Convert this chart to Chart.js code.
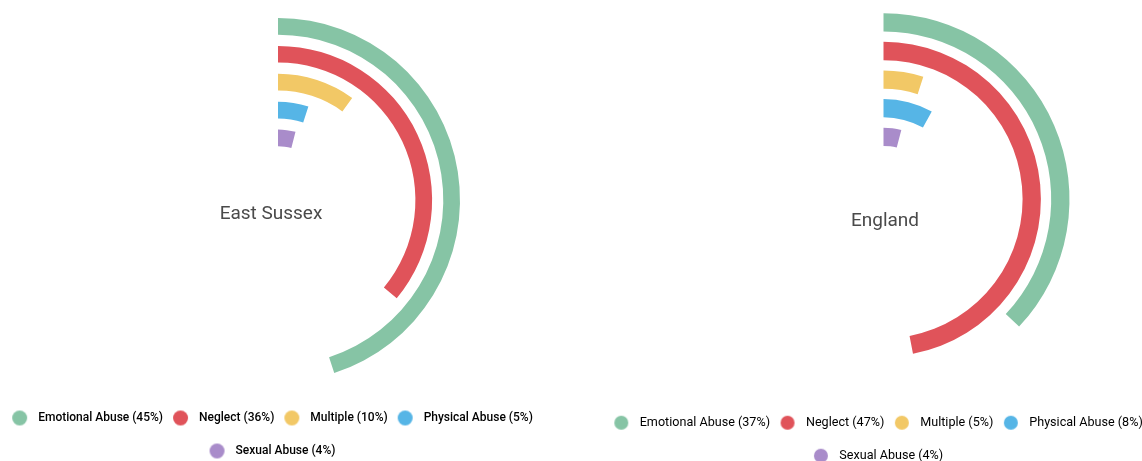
<!DOCTYPE html>
<html>
<head>
<meta charset="utf-8">
<title>Child protection plans by category of abuse</title>
<script src="https://cdn.jsdelivr.net/npm/chart.js@4.4.1/dist/chart.umd.min.js"></script>
<style>
  html, body { margin: 0; padding: 0; background: #ffffff; width: 1142px; height: 461px; overflow: hidden; position: relative; }
  canvas { position: absolute; top: 0; }
</style>
</head>
<body>
<canvas id="eastSussex" width="620" height="467" style="left:-32px"></canvas>
<canvas id="england" width="619" height="472" style="left:574px"></canvas>
<script>
// Categories and percentages for each area
const categories = ['Emotional Abuse', 'Neglect', 'Multiple', 'Physical Abuse', 'Sexual Abuse'];
const eastSussexValues = [45, 36, 10, 5, 4];
const englandValues = [37, 47, 5, 8, 4];
const areaTitles = ['East Sussex', 'England'];

const palette = ['#86C4A5', '#E0535A', '#F2C866', '#56B5E6', '#A98CCA'];
const CLEAR = 'rgba(0,0,0,0)';

// Legend marker: a filled circle on a transparent canvas, shifted off centre
function marker(color, d, shift) {
  const w = Math.ceil(2 * (Math.abs(shift) + d / 2)) + 2;
  const h = Math.ceil(d) + 2;
  const c = document.createElement('canvas');
  c.width = w; c.height = h;
  const ctx = c.getContext('2d');
  ctx.fillStyle = color;
  ctx.beginPath();
  ctx.arc(w / 2 + shift, h / 2, d / 2, 0, Math.PI * 2);
  ctx.fill();
  return c;
}

// Area name written inside the rings
const centreTitle = {
  id: 'centreTitle',
  afterDatasetsDraw(chart, args, opts) {
    const arc = chart.getDatasetMeta(0).data[0];
    if (!arc) return;
    const ctx = chart.ctx;
    ctx.save();
    ctx.font = opts.font;
    ctx.fillStyle = opts.color;
    ctx.textAlign = 'center';
    ctx.textBaseline = 'alphabetic';
    ctx.fillText(opts.text, arc.x + opts.dx, arc.y + opts.dy);
    ctx.restore();
  }
};

function ringChart(id, title, values, look) {
  // one ring per category, outermost first, with a blank ring between them
  const datasets = [];
  values.forEach((v, i) => {
    if (i > 0) {
      datasets.push({ data: [100], backgroundColor: [CLEAR], weight: look.gap, borderWidth: 0 });
    }
    datasets.push({
      label: categories[i],
      data: [v, 100 - v],
      backgroundColor: [palette[i], CLEAR],
      weight: look.ring,
      borderWidth: 0
    });
  });
  const inner = look.radius - values.length * look.ring - (values.length - 1) * look.gap;

  const P = look.padding, f = look.fontSize;
  const bw = -(P - look.gapBefore) + look.dot + look.gapAfter - f / 2;
  const shift = -(P - look.gapBefore) + look.dot / 2 - bw / 2;

  return new Chart(document.getElementById(id), {
    type: 'doughnut',
    data: { labels: ['share', 'rest'], datasets },
    options: {
      responsive: false,
      animation: false,
      radius: look.radius,
      cutout: (inner / look.radius * 100) + '%',
      layout: { padding: { top: look.top, bottom: 0, left: 0, right: 0 } },
      events: [],
      plugins: {
        tooltip: { enabled: false },
        legend: {
          position: 'bottom',
          labels: {
            usePointStyle: true,
            pointStyleWidth: bw,
            padding: P,
            color: look.textColor,
            font: { family: 'Roboto', size: f, weight: look.weight },
            generateLabels: () => values.map((v, i) => ({
              text: `${categories[i]} (${v}%)`,
              fillStyle: palette[i],
              strokeStyle: palette[i],
              lineWidth: 0,
              pointStyle: marker(palette[i], look.dot, shift),
              hidden: false,
              index: i,
              datasetIndex: 0
            }))
          }
        },
        centreTitle: {
          text: title,
          dx: look.titleDx,
          dy: look.titleDy,
          font: '19px Roboto',
          color: '#4a4a4a'
        }
      }
    },
    plugins: [centreTitle]
  });
}

function build() {
  ringChart('eastSussex', areaTitles[0], eastSussexValues, {
    radius: 182, ring: 16.7, gap: 11.2, top: 9,
    fontSize: 12, weight: '500', padding: 21, dot: 15, gapBefore: 10, gapAfter: 11,
    textColor: '#3d3d3d', titleDx: -7, titleDy: 19.3
  });
  ringChart('england', areaTitles[1], englandValues, {
    radius: 186, ring: 18.3, gap: 10.3, top: 2.5,
    fontSize: 12.6, weight: '400', padding: 20.4, dot: 14, gapBefore: 10.5, gapAfter: 11.4,
    textColor: '#555555', titleDx: 1.5, titleDy: 26.7
  });
}

const fontsReady = document.fonts && document.fonts.load
  ? Promise.all([
      document.fonts.load('12px Roboto'),
      document.fonts.load('500 12px Roboto'),
      document.fonts.load('19px Roboto')
    ]).catch(() => null)
  : Promise.resolve();
fontsReady.then(build);
</script>
</body>
</html>
